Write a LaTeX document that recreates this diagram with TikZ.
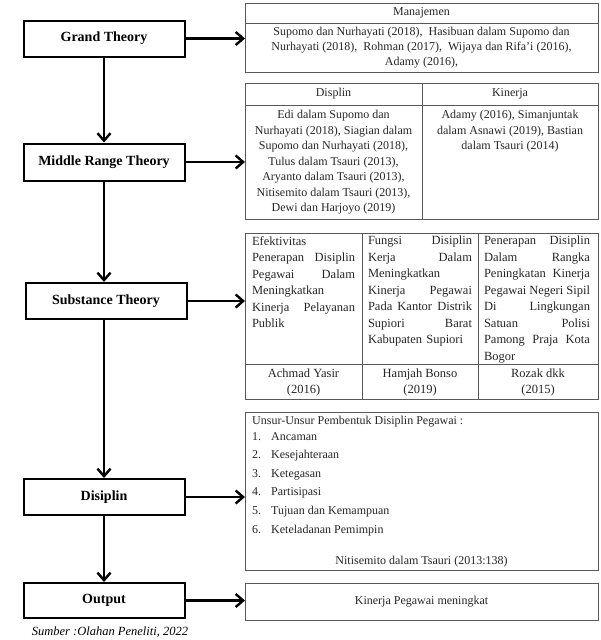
\documentclass[tikz,border=0pt]{standalone}
\usepackage{fontspec}
\setmainfont{Liberation Serif}
\usetikzlibrary{arrows.meta}
\begin{document}
\begin{tikzpicture}[x=1pt,y=-1pt,
  leftbox/.style={draw, line width=2pt, minimum width=161pt, minimum height=36pt,
    font=\fontsize{14}{16}\selectfont\bfseries, inner sep=0pt},
  rbox/.style={draw=black!65, line width=0.9pt, inner sep=0pt, anchor=north west},
  rline/.style={draw=black!65, line width=0.9pt},
  txt/.style={font=\fontsize{12}{15}\selectfont, text=black!85, inner sep=0pt},
  celltxt/.style={font=\fontsize{12.5}{16.5}\selectfont, text=black!85, inner sep=0pt, anchor=north, align=left},
  arr/.style={line width=2.4pt, -{Straight Barb[length=7.5pt,width=13pt]}}
]
\useasboundingbox (0,0) rectangle (600,640);

% left column
\node[leftbox] (grand) at (104,38.5) {Grand Theory};
\node[leftbox, minimum height=37pt] (middle) at (104,162) {Middle Range Theory};
\node[leftbox] (subst) at (106,301) {Substance Theory};
\node[leftbox] (disl) at (104,497) {Disiplin};
\node[leftbox, minimum height=35pt] (outl) at (104,600.5) {Output};

% right boxes
\node[rbox, minimum width=353pt, minimum height=69pt] (man) at (245,3) {};
\node[rbox, minimum width=353pt, minimum height=136pt] (mid) at (245,83) {};
\node[rbox, minimum width=353pt, minimum height=166pt] (sub) at (245,233) {};
\node[rbox, minimum width=353pt, minimum height=158pt] (dis) at (245,412) {};
\node[rbox, minimum width=353pt, minimum height=37pt] (out) at (245,583) {};

% table lines
\draw[rline] (245,23) -- (598,23);
\draw[rline] (245,105) -- (598,105);
\draw[rline] (422,83) -- (422,219);
\draw[rline] (245,364) -- (598,364);
\draw[rline] (362,233) -- (362,399);
\draw[rline] (478,233) -- (478,399);

% arrows
\draw[arr] (grand.south) -- (middle.north);
\draw[arr] (middle.south) -- (middle.south |- subst.north);
\draw[arr] (middle.south |- subst.south) -- (disl.north);
\draw[arr] (disl.south) -- (outl.north);
\draw[arr] (grand.east) -- (grand.east -| man.west);
\draw[arr] (middle.east) -- (middle.east -| mid.west);
\draw[arr] (subst.east) -- (subst.east -| sub.west);
\draw[arr] (disl.east) -- (disl.east -| dis.west);
\draw[arr] (outl.east) -- (outl.east -| out.west);

% texts
\node[txt] (manh) at (421.5,13) {Manajemen};
\node[txt, align=center] (mant) at (421.5,47.5) {Supomo dan Nurhayati (2018),~ Hasibuan dalam Supomo dan\\
Nurhayati (2018),~ Rohman (2017),~ Wijaya dan Rifa'i (2016),\\ Adamy (2016),};

\node[txt] (dh) at (333.5,93.5) {Displin};
\node[txt] (kh) at (510,93.5) {Kinerja};
\node[txt, align=center, anchor=north, font=\fontsize{12}{15.5}\selectfont] (dt) at (333.5,110) {Edi dalam Supomo dan\\ Nurhayati (2018), Siagian dalam\\ Supomo dan Nurhayati (2018),\\ Tulus dalam Tsauri (2013),\\ Aryanto dalam Tsauri (2013),\\ Nitisemito dalam Tsauri (2013),\\ Dewi dan Harjoyo (2019)};
\node[txt, align=center, anchor=north, font=\fontsize{12}{15.5}\selectfont] (kt) at (510,110) {Adamy (2016), Simanjuntak\\ dalam Asnawi (2019), Bastian\\ dalam Tsauri (2014)};

\node[celltxt, text width=103pt] (c1) at (303.5,236) {Efektivitas\\ Penerapan\hfill Disiplin\\ Pegawai\hfill Dalam\\ Meningkatkan\\ Kinerja\hfill Pelayanan\\ Publik};
\node[celltxt, text width=104pt] (c2) at (420,236) {Fungsi\hfill Disiplin\\ Kerja\hfill Dalam\\ Meningkatkan\\ Kinerja\hfill Pegawai\\ Pada\hfill Kantor\hfill Distrik\\ Supiori\hfill Barat\\ Kabupaten Supiori};
\node[celltxt, text width=106pt] (c3) at (537,236) {Penerapan\hfill Disiplin\\ Dalam\hfill Rangka\\ Peningkatan\hfill Kinerja\\ Pegawai\hfill Negeri\hfill Sipil\\ Di\hfill Lingkungan\\ Satuan\hfill Polisi\\ Pamong\hfill Praja\hfill Kota\\ Bogor};
\node[celltxt, align=center, font=\fontsize{12.5}{16}\selectfont, anchor=center] (a1) at (303.5,382) {Achmad Yasir\\ (2016)};
\node[celltxt, align=center, font=\fontsize{12.5}{16}\selectfont, anchor=center] (a2) at (420,382) {Hamjah Bonso\\ (2019)};
\node[celltxt, align=center, font=\fontsize{12.5}{16}\selectfont, anchor=center] (a3) at (538,382) {Rozak dkk\\ (2015)};

\node[txt, anchor=north west] (uh) at (252,416) {Unsur-Unsur Pembentuk Disiplin Pegawai :};
\node[txt, anchor=north west, align=left, font=\fontsize{12}{18.6}\selectfont] (ul) at (252,432) {\makebox[19pt][l]{1.}Ancaman\\
\makebox[19pt][l]{2.}Kesejahteraan\\
\makebox[19pt][l]{3.}Ketegasan\\
\makebox[19pt][l]{4.}Partisipasi\\
\makebox[19pt][l]{5.}Tujuan dan Kemampuan\\
\makebox[19pt][l]{6.}Keteladanan Pemimpin};
\node[txt] (nit) at (421.5,562) {Nitisemito dalam Tsauri (2013:138)};
\node[txt] (ot) at (421.5,602) {Kinerja Pegawai meningkat};

\node[font=\fontsize{12.5}{15}\selectfont\itshape, inner sep=0pt] (src) at (110,632) {Sumber :Olahan Peneliti, 2022};
\end{tikzpicture}
\end{document}
